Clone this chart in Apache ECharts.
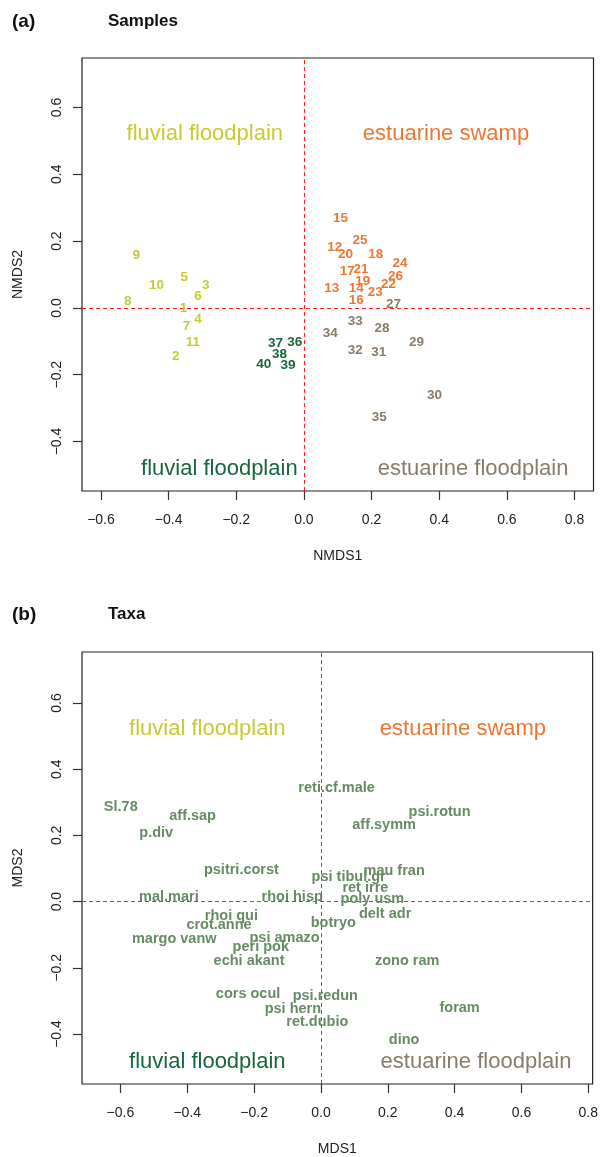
<!DOCTYPE html>
<html>
<head>
<meta charset="utf-8">
<script src="https://cdn.jsdelivr.net/npm/echarts@6/dist/echarts.min.js"></script>
<style>
html,body{margin:0;padding:0;background:#fff;}
#c{width:601px;height:1157px;}
</style>
</head>
<body>
<div id="c"></div>
<script>
// ---------- Tick labels ----------
const xTicks = [-0.6, -0.4, -0.2, 0.0, 0.2, 0.4, 0.6, 0.8];
const yTicks = [-0.4, -0.2, 0.0, 0.2, 0.4, 0.6];

// ---------- Panel (a) Samples ----------
// fluvial floodplain (yellow)
const yellowLabels = ['1','2','3','4','5','6','7','8','9','10','11'];
const yellowX = [-0.356,-0.379,-0.290,-0.313,-0.354,-0.313,-0.347,-0.521,-0.495,-0.436,-0.328];
const yellowY = [-0.001,-0.146, 0.069,-0.033, 0.092, 0.034,-0.056, 0.019, 0.158, 0.069,-0.102];
// estuarine swamp (orange)
const orangeLabels = ['12','13','14','15','16','17','18','19','20','21','22','23','24','25','26'];
const orangeX = [0.091,0.082,0.155,0.108,0.155,0.128,0.212,0.174,0.123,0.169,0.250,0.211,0.284,0.166,0.271];
const orangeY = [0.180,0.060,0.060,0.268,0.022,0.111,0.160,0.081,0.161,0.116,0.072,0.048,0.135,0.203,0.095];
// estuarine floodplain (brown)
const brownLabels = ['27','28','29','30','31','32','33','34','35'];
const brownX = [0.265,0.231,0.333,0.386,0.221,0.152,0.152,0.078,0.223];
const brownY = [0.012,-0.061,-0.102,-0.261,-0.133,-0.126,-0.039,-0.076,-0.326];
// fluvial floodplain (dark green)
const greenLabels = ['36','37','38','39','40'];
const greenX = [-0.027,-0.084,-0.072,-0.047,-0.119];
const greenY = [-0.103,-0.106,-0.140,-0.171,-0.168];

// quadrant labels panel (a)
const quadLabels = ['fluvial floodplain','estuarine swamp','fluvial floodplain','estuarine floodplain'];
const quadAX = [-0.293, 0.420, -0.250, 0.500];
const quadAY = [0.520, 0.520, -0.482, -0.482];

// ---------- Panel (b) Taxa ----------
const taxaLabels = ['Sl.78','aff.sap','p.div','reti.cf.male','psi.rotun','aff.symm','psitri.corst','mau fran',
  'psi tibul.gr','ret irre','mal.mari','rhoi hisp','poly usm','delt adr','rhoi qui','crot.anne','botryo',
  'margo vanw','psi amazo','peri pok','echi akant','zono ram','cors ocul','psi.redun','psi hern','foram',
  'ret.dubio','dino'];
const taxaX = [-0.599,-0.384,-0.493,0.047,0.355,0.189,-0.238,0.219,
  0.083,0.133,-0.455,-0.086,0.154,0.192,-0.268,-0.305,0.037,
  -0.439,-0.109,-0.180,-0.215,0.258,-0.218,0.013,-0.084,0.415,
  -0.011,0.249];
const taxaY = [0.285,0.260,0.208,0.343,0.271,0.230,0.095,0.091,
  0.073,0.041,0.015,0.013,0.008,-0.037,-0.042,-0.070,-0.064,
  -0.113,-0.110,-0.138,-0.178,-0.178,-0.280,-0.284,-0.324,-0.322,
  -0.364,-0.417];
const quadBX = [-0.340, 0.425, -0.340, 0.464];
const quadBY = [0.521, 0.521, -0.484, -0.484];

const colYellow = '#c8ca32', colOrange = '#ee7633', colBrown = '#8a7c6a', colGreen = '#16673a', colTaxa = '#688b66';
const quadColors = [colYellow, colOrange, colGreen, colBrown];

const FONT = 'Liberation Sans, Arial, Helvetica, sans-serif';

function zip(xs, ys, ls){ return xs.map((x,i)=>[x, ys[i], ls[i]]); }
const fmt = v => (Math.round(v*10)/10).toFixed(1).replace('-', '\u2212');

function textSeries(data, xi, color, size, weight, extraColorFn){
  return {
    type: 'scatter', xAxisIndex: xi, yAxisIndex: xi, silent: true,
    symbolSize: 1, itemStyle: {color: 'rgba(0,0,0,0)', opacity: 1},
    data: data.map((d,i)=>({value: d, label: extraColorFn ? {color: extraColorFn(i)} : undefined})),
    label: {show: true, position: 'inside', formatter: p => p.value[2], opacity: 1,
      color: color, fontSize: size, fontWeight: weight, fontFamily: FONT},
    labelLayout: {hideOverlap: false},
    emphasis: {disabled: true}, z: 5
  };
}

function xAxisCfg(gi, min, max, name){
  return {type:'value', gridIndex: gi, min, max, name, nameLocation:'middle', nameGap: 58,
    nameTextStyle:{fontSize:14, color:'#222', fontFamily: FONT},
    axisLine:{show:false, onZero:false}, splitLine:{show:false},
    axisTick:{show:true, length:9, inside:false, customValues: xTicks, lineStyle:{color:'#333', width:1.2}},
    axisLabel:{show:true, customValues: xTicks, formatter: fmt, margin: 22, fontSize:14, color:'#222', fontFamily: FONT}
  };
}
function yAxisCfg(gi, min, max, name){
  return {type:'value', gridIndex: gi, min, max, name, nameLocation:'middle', nameGap: 57,
    nameTextStyle:{fontSize:14, color:'#222', fontFamily: FONT},
    axisLine:{show:false, onZero:false}, splitLine:{show:false},
    axisTick:{show:true, length:9, inside:false, customValues: yTicks, lineStyle:{color:'#333', width:1.2}},
    axisLabel:{show:true, customValues: yTicks, formatter: fmt, rotate: 90, margin: 18, fontSize:14, color:'#222', fontFamily: FONT}
  };
}

function zeroLines(xi){
  return {
    type:'scatter', xAxisIndex: xi, yAxisIndex: xi, silent:true, data:[], symbolSize:0,
    markLine:{silent:true, symbol:'none', label:{show:false}, animation:false,
      lineStyle: {type:[4,3], color:'#ff2020', width:1},
      data:[{xAxis:0},{yAxis:0}]}, z: 2
  };
}

const chart = echarts.init(document.getElementById('c'), null, {renderer:'canvas'});
chart.setOption({
  animation: false,
  backgroundColor: '#fff',
  title: [
    {text:'(a)', left: 12, top: 12, padding: 0, textStyle:{fontSize:19, fontWeight:'bold', color:'#111', fontFamily: FONT}},
    {text:'Samples', left: 108, top: 13, padding: 0, textStyle:{fontSize:17, fontWeight:'bold', color:'#111', fontFamily: FONT}},
    {text:'(b)', left: 12, top: 605, padding: 0, textStyle:{fontSize:19, fontWeight:'bold', color:'#111', fontFamily: FONT}},
    {text:'Taxa', left: 108, top: 606, padding: 0, textStyle:{fontSize:17, fontWeight:'bold', color:'#111', fontFamily: FONT}}
  ],
  grid: [
    {left: 82, top: 58, width: 511.5, height: 433, show: true, borderColor:'#222', borderWidth:1.2, backgroundColor:'transparent'},
    {left: 82, top: 652, width: 512.5, height: 434.5, show: true, borderColor:'#222', borderWidth:1.2, backgroundColor:'transparent'}
  ],
  xAxis: [xAxisCfg(0, -0.656, 0.856, 'NMDS1'), xAxisCfg(1, -0.715, 0.813, 'MDS1')],
  yAxis: [yAxisCfg(0, -0.548, 0.748, 'NMDS2'), yAxisCfg(1, -0.551, 0.754, 'MDS2')],
  series: [
    zeroLines(0), zeroLines(1),
    textSeries(zip(yellowX, yellowY, yellowLabels), 0, colYellow, 13.5, 'bold'),
    textSeries(zip(orangeX, orangeY, orangeLabels), 0, colOrange, 13.5, 'bold'),
    textSeries(zip(brownX, brownY, brownLabels), 0, colBrown, 13.5, 'bold'),
    textSeries(zip(greenX, greenY, greenLabels), 0, colGreen, 13.5, 'bold'),
    textSeries(zip(quadAX, quadAY, quadLabels), 0, '#000', 22, 'normal', i=>quadColors[i]),
    textSeries(zip(taxaX, taxaY, taxaLabels), 1, colTaxa, 14.5, 'bold'),
    textSeries(zip(quadBX, quadBY, quadLabels), 1, '#000', 22, 'normal', i=>quadColors[i])
  ]
});
</script>
</body>
</html>
